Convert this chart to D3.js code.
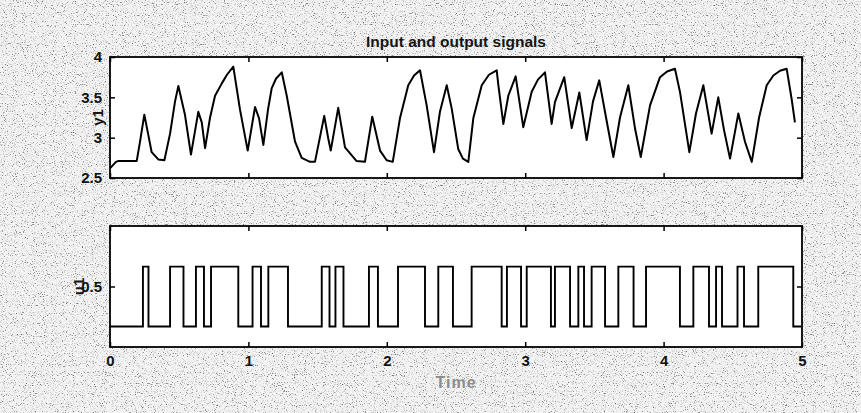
<!DOCTYPE html>
<html>
<head>
<meta charset="utf-8">
<script src="https://cdn.jsdelivr.net/npm/d3@7/dist/d3.min.js"></script>
<style>
  html, body { margin: 0; padding: 0; background: #fff; }
  svg { display: block; }
  .tick text { font-family: "Liberation Sans", Arial, sans-serif; font-size: 15px; font-weight: bold; fill: #111; }
</style>
</head>
<body>
<svg id="fig" width="861" height="413"></svg>
<script>
// ---- data ----
const timeTicks = [0, 1, 2, 3, 4, 5];
const y1Ticks = [2.5, 3, 3.5, 4];
const u1Ticks = [0.5];

// output y1 sampled along time
const y1Time = [0.000, 0.043, 0.058, 0.193, 0.217, 0.248, 0.275, 0.301, 0.349, 0.393,
  0.434, 0.470, 0.494, 0.542, 0.585, 0.638, 0.663, 0.687, 0.723, 0.759, 0.807, 0.845,
  0.891, 0.939, 0.995, 1.048, 1.077, 1.108, 1.142, 1.168, 1.199, 1.241, 1.277, 1.337,
  1.385, 1.445, 1.481, 1.548, 1.577, 1.595, 1.649, 1.698, 1.782, 1.842, 1.895, 1.951,
  1.999, 2.043, 2.095, 2.155, 2.197, 2.240, 2.288, 2.341, 2.384, 2.433, 2.469, 2.516,
  2.550, 2.589, 2.625, 2.686, 2.738, 2.794, 2.806, 2.842, 2.878, 2.931, 2.986, 3.047,
  3.092, 3.143, 3.191, 3.215, 3.282, 3.336, 3.391, 3.444, 3.490, 3.535, 3.584, 3.637,
  3.685, 3.745, 3.794, 3.835, 3.902, 3.974, 4.025, 4.082, 4.118, 4.186, 4.234, 4.287,
  4.347, 4.395, 4.436, 4.480, 4.540, 4.588, 4.637, 4.690, 4.745, 4.793, 4.841, 4.889,
  4.925, 4.949];
const y1Value = [2.62, 2.70, 2.71, 2.71, 2.95, 3.285, 3.05, 2.82, 2.73, 2.72,
  3.05, 3.45, 3.64, 3.28, 2.79, 3.32, 3.19, 2.87, 3.25, 3.52, 3.67, 3.78,
  3.88, 3.35, 2.84, 3.38, 3.24, 2.91, 3.35, 3.61, 3.73, 3.81, 3.52, 2.95,
  2.75, 2.70, 2.70, 3.27, 2.99, 2.84, 3.37, 2.88, 2.71, 2.70, 3.26, 2.84,
  2.72, 2.70, 3.24, 3.65, 3.77, 3.835, 3.40, 2.82, 3.32, 3.65, 3.36, 2.86,
  2.74, 2.70, 3.24, 3.65, 3.78, 3.835, 3.65, 3.17, 3.52, 3.76, 3.13, 3.57,
  3.72, 3.81, 3.17, 3.44, 3.75, 3.12, 3.56, 2.97, 3.45, 3.71, 3.25, 2.76,
  3.25, 3.65, 3.11, 2.76, 3.40, 3.75, 3.82, 3.855, 3.57, 2.82, 3.30, 3.65,
  3.05, 3.50, 3.10, 2.74, 3.30, 2.95, 2.70, 3.25, 3.65, 3.77, 3.83, 3.855,
  3.48, 3.19];

// input u1: switching instants and the level held after each one
const u1Time = [0.000, 0.238, 0.278, 0.434, 0.531, 0.621, 0.679, 0.730, 0.927, 1.030,
  1.091, 1.144, 1.286, 1.530, 1.586, 1.629, 1.687, 1.871, 1.936, 2.081, 2.276,
  2.372, 2.478, 2.613, 2.830, 2.868, 2.970, 3.011, 3.186, 3.215, 3.324, 3.384,
  3.425, 3.480, 3.577, 3.673, 3.783, 3.873, 4.118, 4.215, 4.328, 4.379, 4.422,
  4.534, 4.581, 4.684, 4.937, 4.995];
const u1Value = [0.17, 0.664, 0.17, 0.664, 0.17, 0.664, 0.17, 0.664, 0.17, 0.664,
  0.17, 0.664, 0.17, 0.664, 0.17, 0.664, 0.17, 0.664, 0.17, 0.664, 0.17,
  0.664, 0.17, 0.664, 0.17, 0.664, 0.17, 0.664, 0.17, 0.664, 0.17, 0.664,
  0.17, 0.664, 0.17, 0.664, 0.17, 0.664, 0.17, 0.664, 0.17, 0.664, 0.17,
  0.664, 0.17, 0.664, 0.17, 0.17];

// ---- layout ----
const W = 861, H = 413;
const left = 110, right = 802;
const topPanel = { y0: 57, y1: 178 };
const botPanel = { y0: 226, y1: 347 };

const svg = d3.select("#fig");

// speckled figure background
const defs = svg.append("defs");
const f = defs.append("filter").attr("id", "grain")
  .attr("x", 0).attr("y", 0).attr("width", "100%").attr("height", "100%");
f.append("feTurbulence").attr("type", "fractalNoise")
  .attr("baseFrequency", 0.9).attr("numOctaves", 2).attr("seed", 7).attr("result", "n");
f.append("feColorMatrix").attr("type", "matrix")
  .attr("values", "1 0 0 0 0  1 0 0 0 0  1 0 0 0 0  0 0 0 0 1").attr("result", "g");
const ct = f.append("feComponentTransfer");
const table = "0.1 0.15 0.3 0.62 0.84 0.9 0.94 0.97 1 1";
ct.append("feFuncR").attr("type", "discrete").attr("tableValues", table);
ct.append("feFuncG").attr("type", "discrete").attr("tableValues", table);
ct.append("feFuncB").attr("type", "discrete").attr("tableValues", table);

svg.append("rect").attr("width", W).attr("height", H).attr("fill", "#d0d0d0");
svg.append("rect").attr("width", W).attr("height", H).attr("filter", "url(#grain)");

// ---- scales ----
const x = d3.scaleLinear().domain([0, 5]).range([left, right]);
const yTop = d3.scaleLinear().domain([2.5, 4]).range([topPanel.y1, topPanel.y0]);
const yBot = d3.scaleLinear().domain([0, 1]).range([botPanel.y1, botPanel.y0]);

function panel(yScale, p, yTicks, showXLabels) {
  const g = svg.append("g");
  g.append("rect")
    .attr("x", left).attr("y", p.y0)
    .attr("width", right - left).attr("height", p.y1 - p.y0)
    .attr("fill", "#fff");

  const tick = 5;
  const bx = g.append("g").attr("transform", `translate(0,${p.y1})`)
    .call(d3.axisBottom(x).tickValues(timeTicks).tickSizeInner(-tick).tickSizeOuter(0)
      .tickPadding(8).tickFormat(showXLabels ? d3.format("d") : ""));
  const tx = g.append("g").attr("transform", `translate(0,${p.y0})`)
    .call(d3.axisTop(x).tickValues(timeTicks).tickSizeInner(-tick).tickSizeOuter(0).tickFormat(""));
  const ly = g.append("g").attr("transform", `translate(${left},0)`)
    .call(d3.axisLeft(yScale).tickValues(yTicks).tickSizeInner(-tick).tickSizeOuter(0)
      .tickPadding(8).tickFormat(d => d3.format("")(d)));
  const ry = g.append("g").attr("transform", `translate(${right},0)`)
    .call(d3.axisRight(yScale).tickValues(yTicks).tickSizeInner(-tick).tickSizeOuter(0).tickFormat(""));

  [bx, tx, ly, ry].forEach(a => {
    a.select(".domain").remove();
    a.selectAll(".tick line").attr("stroke", "#000").attr("stroke-width", 1.5);
  });

  g.append("rect")
    .attr("x", left).attr("y", p.y0)
    .attr("width", right - left).attr("height", p.y1 - p.y0)
    .attr("fill", "none").attr("stroke", "#000").attr("stroke-width", 1.8);
  return g;
}

const gTop = panel(yTop, topPanel, y1Ticks, false);
const gBot = panel(yBot, botPanel, u1Ticks, true);

// output curve
const y1Line = d3.line()
  .x((d, i) => x(y1Time[i]))
  .y(d => yTop(d));
gTop.append("path")
  .attr("d", y1Line(y1Value))
  .attr("fill", "none").attr("stroke", "#000")
  .attr("stroke-width", 2).attr("stroke-linejoin", "round");

// input square wave
const u1Line = d3.line()
  .x((d, i) => x(u1Time[i]))
  .y(d => yBot(d))
  .curve(d3.curveStepAfter);
gBot.append("path")
  .attr("d", u1Line(u1Value))
  .attr("fill", "none").attr("stroke", "#000")
  .attr("stroke-width", 1.9);

// titles and axis labels
const font = '"Liberation Sans", Arial, sans-serif';
svg.append("text")
  .attr("x", (left + right) / 2).attr("y", 47)
  .attr("text-anchor", "middle")
  .attr("font-family", font).attr("font-size", 15.5).attr("font-weight", "bold").attr("fill", "#151515")
  .text("Input and output signals");

svg.append("text")
  .attr("transform", `translate(103,${(topPanel.y0 + topPanel.y1) / 2}) rotate(-90)`)
  .attr("text-anchor", "middle")
  .attr("font-family", font).attr("font-size", 15).attr("font-weight", "bold").attr("fill", "#151515")
  .text("y1");

svg.append("text")
  .attr("transform", `translate(84,${(botPanel.y0 + botPanel.y1) / 2}) rotate(-90)`)
  .attr("text-anchor", "middle")
  .attr("font-family", font).attr("font-size", 15).attr("font-weight", "bold").attr("fill", "#151515")
  .text("u1");

svg.append("text")
  .attr("x", (left + right) / 2).attr("y", 388)
  .attr("text-anchor", "middle")
  .attr("font-family", font).attr("font-size", 16).attr("font-weight", "bold")
  .attr("letter-spacing", 1).attr("fill", "#8c8c8c")
  .text("Time");
</script>
</body>
</html>
